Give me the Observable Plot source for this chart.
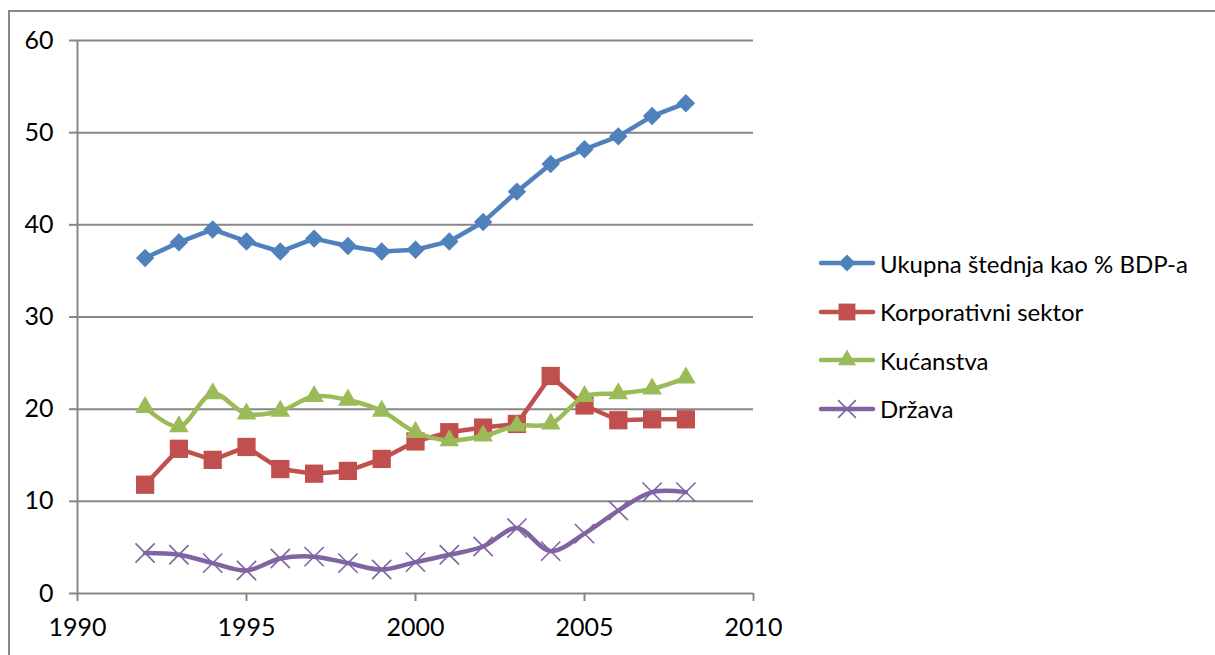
<!DOCTYPE html>
<html>
<head>
<meta charset="utf-8">
<script src="https://cdn.jsdelivr.net/npm/d3@7"></script>
<script src="https://cdn.jsdelivr.net/npm/@observablehq/plot@0.6"></script>
<style>
  html, body { margin: 0; padding: 0; background: #fff; }
  #wrap { position: relative; width: 1215px; height: 655px; overflow: hidden; }
  #frame { position: absolute; left: 8px; top: 10px; right: -10px; bottom: -10px;
           border-top: 2px solid #878787; border-left: 2px solid #878787; }
  #chart { position: absolute; left: 0; top: 0; }
  #legend { position: absolute; left: 818px; top: 239px; font-family: Lato, sans-serif; font-size: 24px; color: #000; }
  .row { display: flex; align-items: center; height: 48.5px; }
  .row svg { margin-right: 4px; }
</style>
</head>
<body>
<div id="wrap">
  <div id="frame"></div>
  <div id="chart"></div>
  <div id="legend"></div>
</div>
<script>
const years = [1992,1993,1994,1995,1996,1997,1998,1999,2000,2001,2002,2003,2004,2005,2006,2007,2008];
const ukupna = [36.4,38.1,39.5,38.2,37.1,38.5,37.7,37.1,37.3,38.2,40.3,43.6,46.6,48.2,49.6,51.8,53.2];
const korporativni = [11.8,15.7,14.5,15.9,13.5,13.0,13.3,14.6,16.5,17.5,18.0,18.4,23.6,20.4,18.8,18.9,18.9];
const kucanstva = [20.2,18.1,21.7,19.5,19.8,21.4,21.0,19.8,17.5,16.6,17.1,18.2,18.4,21.4,21.7,22.2,23.4];
const drzava = [4.4,4.2,3.3,2.5,3.8,4.0,3.3,2.6,3.4,4.2,5.1,7.1,4.6,6.5,9.0,11.0,11.0];
const seriesNames = ["Ukupna štednja kao % BDP-a","Korporativni sektor","Kućanstva","Država"];
const xTicks = [1990,1995,2000,2005,2010];
const yTicks = [0,10,20,30,40,50,60];

const colors = ["#4F81BD","#C0504D","#9BBB59","#8064A2"];
const allValues = [ukupna, korporativni, kucanstva, drzava];
const specs = [
  {symbol:"diamond2", r:8.3, curve:"linear", filled:true},
  {symbol:"square", r:10.3, curve:"linear", filled:true},
  {symbol:"triangle", r:7.3, curve:"catmull-rom", filled:true},
  {symbol:"times", r:8.8, curve:"catmull-rom", filled:false}
];

const tables = allValues.map(vals => years.map((yr,i) => ({year: yr, value: vals[i]})));

const marks = [
  Plot.gridY(yTicks, {stroke:"#878787", strokeOpacity:1, strokeWidth:2}),
  Plot.ruleX([1990], {y1:0, y2:60, stroke:"#878787", strokeWidth:2}),
  Plot.axisY({ticks: yTicks, tickSize:8, tickPadding:16, stroke:"#878787", strokeWidth:2, label:null, fill:"#000"}),
  Plot.axisX({ticks: xTicks, tickSize:8, tickPadding:17, stroke:"#878787", strokeWidth:2, label:null, fill:"#000", tickFormat: d => String(d)})
];
tables.forEach((t, k) => {
  marks.push(Plot.line(t, {x:"year", y:"value", stroke:colors[k], strokeWidth:4.5, curve:specs[k].curve}));
  if (specs[k].filled) {
    marks.push(Plot.dot(t, {x:"year", y:"value", symbol:()=>specs[k].symbol, r:specs[k].r, fill:colors[k], stroke:"none"}));
  } else {
    marks.push(Plot.dot(t, {x:"year", y:"value", symbol:()=>specs[k].symbol, r:specs[k].r, fill:"none", stroke:colors[k], strokeWidth:1.6}));
  }
});

const chart = Plot.plot({
  width: 1215, height: 655,
  marginLeft: 77, marginRight: 462, marginTop: 40, marginBottom: 62,
  x: {domain: [1990, 2010], type: "linear"},
  y: {domain: [0, 60]},
  symbol: {type: "identity"},
  style: {fontFamily: "Lato, sans-serif", fontSize: "25px", color: "#000", background: "transparent", overflow: "visible"},
  marks
});
document.getElementById("chart").appendChild(chart);

// legend
const legend = d3.select("#legend");
const symMap = {diamond2: d3.symbolDiamond2, square: d3.symbolSquare, triangle: d3.symbolTriangle, times: d3.symbolTimes};
seriesNames.forEach((name, k) => {
  const row = legend.append("div").attr("class","row");
  const svg = row.append("svg").attr("width", 58).attr("height", 24);
  svg.append("line").attr("x1", 3).attr("x2", 55).attr("y1", 12).attr("y2", 12)
    .attr("stroke", colors[k]).attr("stroke-width", 4.5).attr("stroke-linecap", "round");
  const size = Math.PI * specs[k].r * specs[k].r * 0.85;
  const path = d3.symbol(symMap[specs[k].symbol], size)();
  const p = svg.append("path").attr("d", path).attr("transform", "translate(29,12)");
  if (specs[k].filled) p.attr("fill", colors[k]); else p.attr("fill","none").attr("stroke", colors[k]).attr("stroke-width", 1.6);
  row.append("span").text(name);
});
</script>
</body>
</html>
